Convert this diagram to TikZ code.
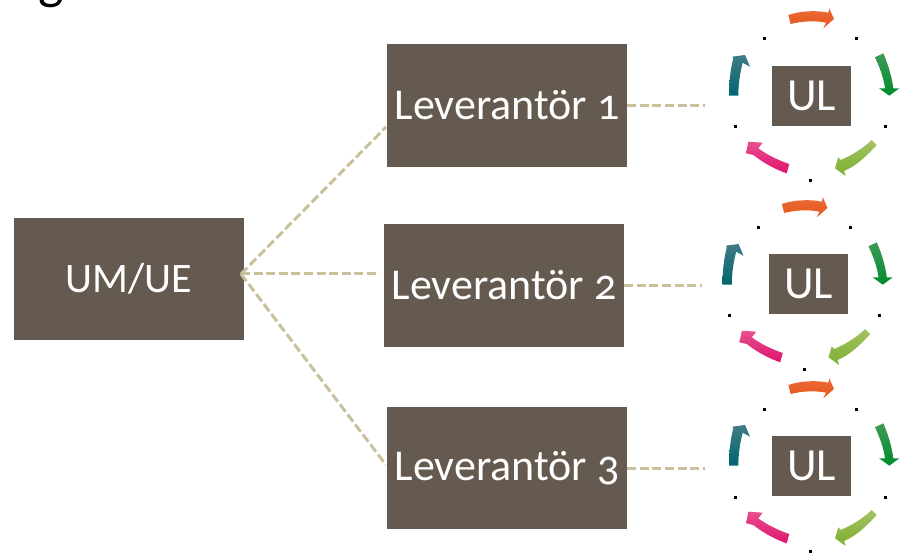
\documentclass[tikz,border=0pt]{standalone}
\usepackage{fontspec}
\setmainfont[Numbers=OldStyle]{Carlito}
\definecolor{boxbrown}{HTML}{655A50}
\definecolor{linktan}{HTML}{C9C19B}
\definecolor{orangetop}{HTML}{EC6A35}
\definecolor{orangelow}{HTML}{E4551C}
\definecolor{greentop}{HTML}{3F9A55}
\definecolor{greenlow}{HTML}{008C2E}
\definecolor{limetop}{HTML}{A3C264}
\definecolor{limelow}{HTML}{7DB02E}
\definecolor{pinktop}{HTML}{E6508F}
\definecolor{pinklow}{HTML}{E0146E}
\definecolor{tealtop}{HTML}{3F7C85}
\definecolor{teallow}{HTML}{006570}
\tikzset{box/.style={fill=boxbrown,text=white,inner sep=0pt,minimum width=#1,font=\fontsize{44}{44}\selectfont},box/.default=240pt}
\tikzset{smallbox/.style={box=79pt,minimum height=60pt,font=\fontsize{46}{46}\selectfont}}
\tikzset{link/.style={color=linktan,line width=3pt,dash pattern=on 9pt off 3.6pt}}
\tikzset{tick/.style={fill=black}}
\tikzset{ulcycle/.pic={
	% Arrows, clockwise from the top
	\shade [top color=orangetop,bottom color=orangelow] (-23.2,-81) .. controls (-12,-85) and (5,-86) .. (16.8,-83.3) -- (17.8,-87.7) -- (22.5,-77) -- (11.8,-67.7) -- (14.5,-73.3) .. controls (5,-75.5) and (-10,-75) .. (-20.8,-72) -- cycle;
	\shade [top color=greentop,bottom color=greenlow] (63.5,-38.7) .. controls (68,-29) and (72,-19) .. (73.5,-7.7) -- (67.5,-7.7) -- (77.8,-0.3) -- (87.8,-7.7) -- (81.8,-7.7) .. controls (80,-21) and (76,-33) .. (71.8,-42.7) -- cycle;
	\shade [top color=limetop,bottom color=limelow] (60.2,44) .. controls (52,52) and (41,59) .. (29.2,64) -- (26.8,61.3) -- (23.5,72.3) -- (34.2,80) -- (32.5,75) .. controls (45,70) and (56,59) .. (65.2,49) -- cycle;
	\shade [top color=pinktop,bottom color=pinklow] (-22.2,68) .. controls (-34,64) and (-44,59) .. (-53.2,52.3) -- (-48.8,46.7) -- (-63.2,45.7) -- (-65.5,57.3) -- (-58.2,59) .. controls (-48,67) and (-37,73) .. (-24.8,77.3) -- cycle;
	\shade [top color=tealtop,bottom color=teallow] (-82.5,-0.3) .. controls (-82.5,-14) and (-81,-27) .. (-78.2,-37.7) -- (-79.2,-39.3) -- (-66.5,-41) -- (-61.5,-29.3) -- (-68.8,-33.3) .. controls (-71.5,-23) and (-73.2,-12) .. (-73.2,-0.3) -- cycle;
	
	% Dots
	\foreach \dotx/\doty in {-47/-57,45.2/-57,74.2/31,-0.8/85,-75.7/31}
		\fill [tick] (\dotx-1.5,\doty-1.5) rectangle (\dotx+1.5,\doty+1.5);
}}

\begin{document}
\begin{tikzpicture}[x=1pt,y=-1pt]
	\useasboundingbox (0,0) rectangle (900,553);
	
	% Cut-off heading
	\node [anchor=base,inner sep=0pt,text=black,font=\fontsize{54}{54}\selectfont] (heading) at (51,-1) {g};
	
	\node [box=230pt,minimum height=122pt,font=\fontsize{42}{42}\selectfont] (um) at (129,279) {\raisebox{-1.5pt}{UM/UE}};
	\node [box,minimum height=123pt] (lev1) at (507,105.5) {\raisebox{-2pt}{Leverantör 1}};
	\node [box,minimum height=123pt] (lev2) at (504,285.5) {\raisebox{-2pt}{Leverantör 2}};
	\node [box,minimum height=122pt] (lev3) at (507,468) {\raisebox{-2pt}{Leverantör 3}};
	
	\node [smallbox] (ul1) at (811.5,96) {UL};
	\node [smallbox] (ul2) at (808.5,284) {UL};
	\node [smallbox] (ul3) at (811.5,466) {UL};
	
	\pic at (ul1) {ulcycle};
	\pic [xshift=-3.5pt,yshift=-1pt] at (ul2) {ulcycle};
	\pic at (ul3) {ulcycle};
	
	% Free ends of the dashed lines
	\coordinate (hub) at (241,274);
	\coordinate (in1) at (386,127);
	\coordinate (in2) at (378,274);
	\coordinate (in3) at (386,465);
	\coordinate (out1) at (705,105.5);
	\coordinate (out2) at (702,285.5);
	\coordinate (out3) at (705,468);
	
	\draw [link] (hub) -- (in1);
	\draw [link] (hub) -- (in2);
	\draw [link] (hub) -- (in3);
	\draw [link] (lev1.east) -- (out1);
	\draw [link] (lev2.east) -- (out2);
	\draw [link] (lev3.east) -- (out3);
\end{tikzpicture}
\end{document}
